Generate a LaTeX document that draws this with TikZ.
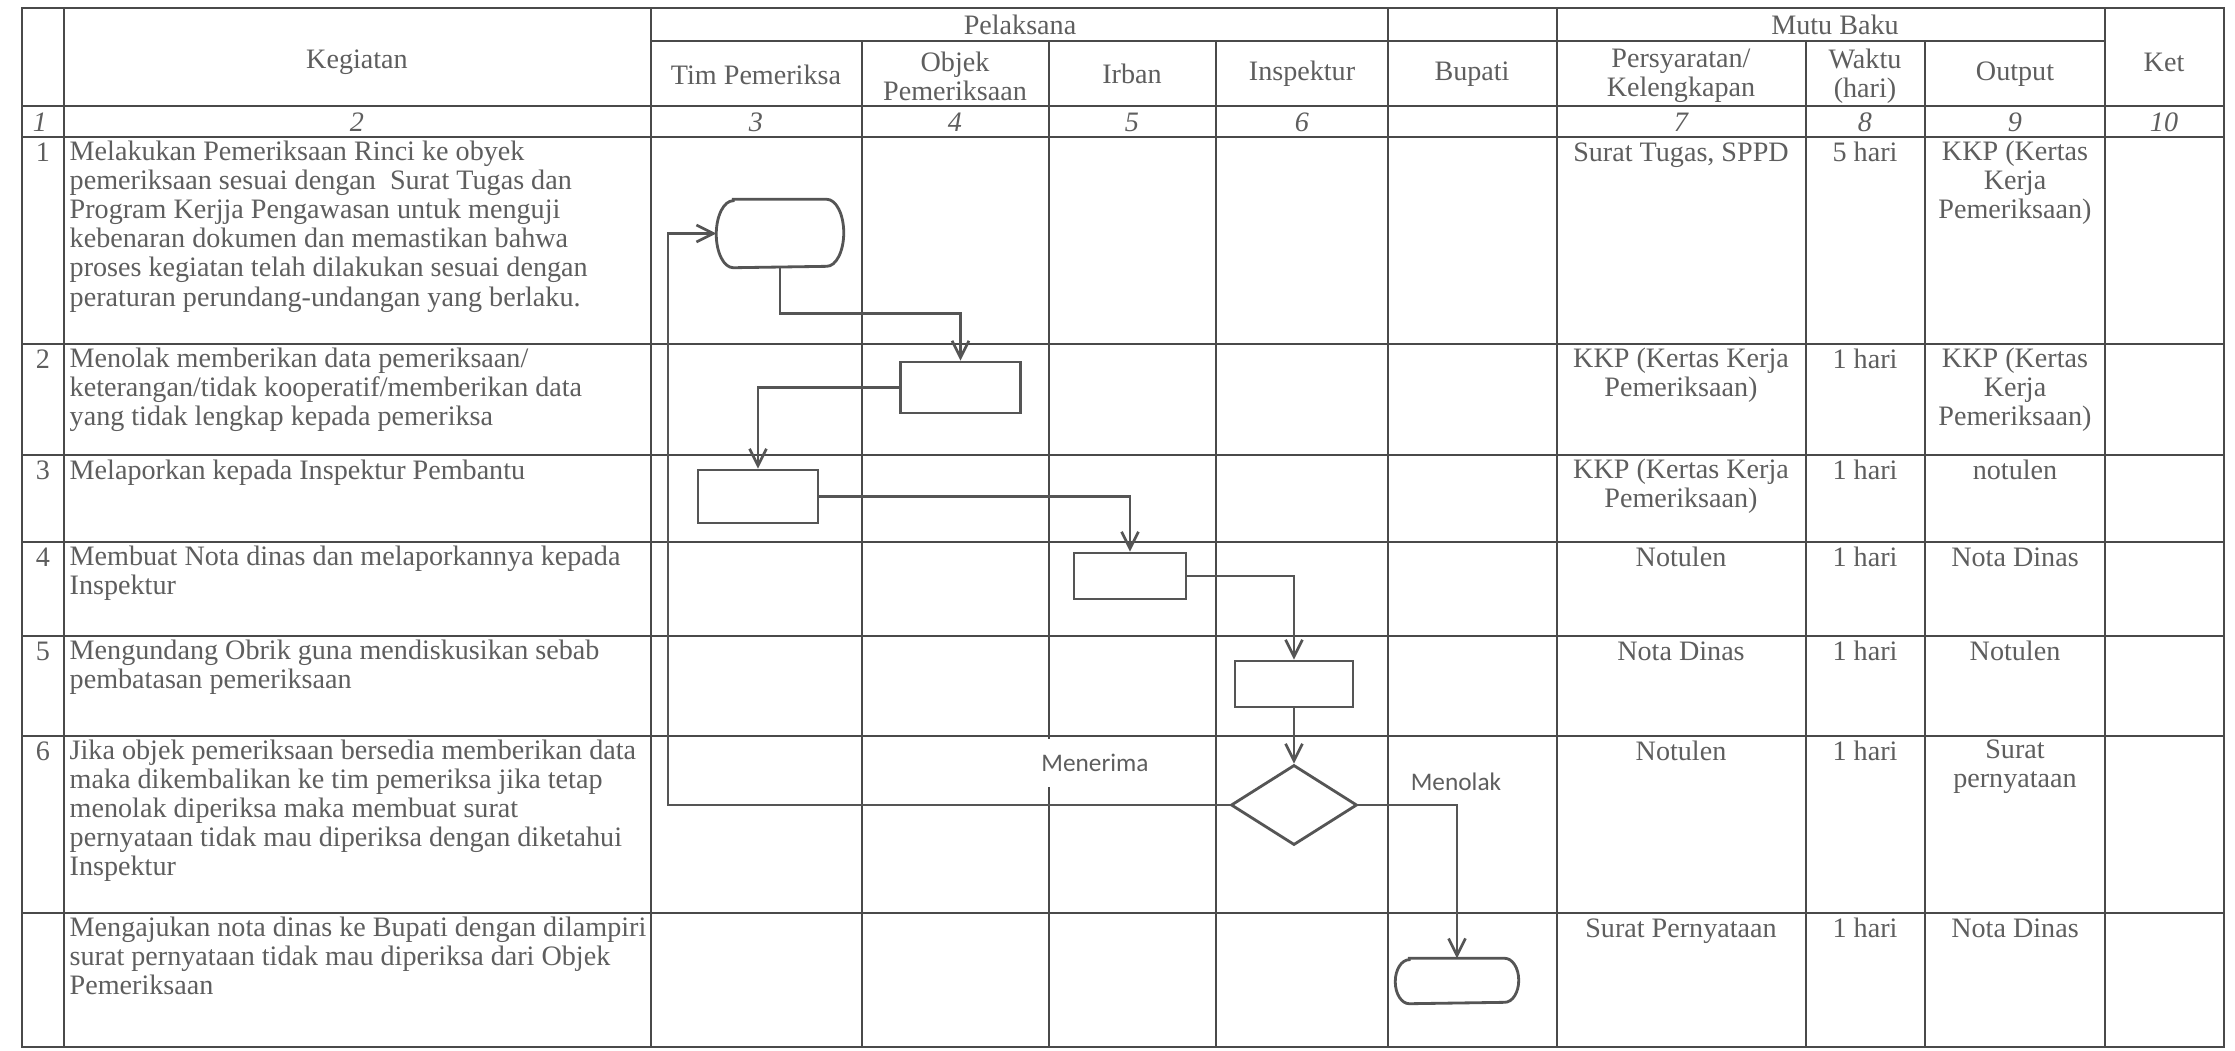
\documentclass[tikz,border=0pt]{standalone}
\usepackage{fontspec}
\setmainfont{Liberation Serif}
\newfontfamily\lblfont{Carlito}
\usepackage{tikz}
\usetikzlibrary{arrows.meta,positioning,shapes.geometric}
\definecolor{gline}{HTML}{4A4A4A}
\definecolor{gtext}{HTML}{5E5E5E}
\definecolor{gflow}{HTML}{555555}
\newcommand{\cellfont}{\fontsize{8}{8.3}\selectfont}
\newcommand{\termline}[3]{\draw[draw=gflow,line width=0.8pt] ([xshift=#2]#1.north west) -- ([xshift=-#2]#1.north east) arc[start angle=90,end angle=-90,x radius=#2,y radius=#3] -- ([xshift=#2]#1.south west) arc[start angle=270,end angle=90,x radius=#2,y radius=#3] -- cycle;}
\tikzset{
  tline/.style={draw=gline,line width=0.4pt},
  hd/.style={text=gtext,font=\cellfont,align=center,inner sep=0pt},
  num/.style={hd,font=\cellfont\itshape},
  cell/.style={hd,anchor=north,execute at begin node=\strut},
  kcell/.style={cell,anchor=north west,align=left},
  proc/.style={draw=gflow,line width=0.8pt,rectangle,inner sep=0pt},
  term/.style={rectangle,inner sep=0pt},
  dec/.style={draw=gflow,line width=0.8pt,diamond,inner sep=0pt},
  fl/.style={-{Straight Barb[length=4.8pt,width=4.8pt]},line width=0.75pt,draw=gflow},
  lbl/.style={font=\lblfont\fontsize{7.2}{8}\selectfont,text=gtext,inner sep=0pt},
}
\begin{document}
\begin{tikzpicture}[x=0.01cm,y=-0.01cm]
\useasboundingbox[fill=white] (0,0) rectangle (2235,1051);
% table
\draw[tline] (22,8) rectangle (2224,1047);
\draw[tline] (651,41) -- (2105,41);
\draw[tline] (22,106) -- (2224,106) (22,137) -- (2224,137) (22,344) -- (2224,344) (22,455) -- (2224,455)
  (22,542) -- (2224,542) (22,636) -- (2224,636) (22,736) -- (2224,736) (22,913) -- (2224,913);
\draw[tline] (64,8) -- (64,1047) (651,8) -- (651,1047) (1388,8) -- (1388,1047) (1557,8) -- (1557,1047) (2105,8) -- (2105,1047);
\draw[tline] (862,41) -- (862,1047) (1049,41) -- (1049,1047) (1216,41) -- (1216,1047) (1806,41) -- (1806,1047) (1925,41) -- (1925,1047);
\node[hd] (hkeg) at (357,62) {Kegiatan};
\node[hd] (hpel) at (1020,25) {Pelaksana};
\node[hd] (htim) at (756,75) {Tim Pemeriksa};
\node[hd] (hobj) at (955,76) {Objek\\Pemeriksaan};
\node[hd] (hirb) at (1132,74) {Irban};
\node[hd] (hins) at (1302,74) {Inspektur};
\node[hd] (hbup) at (1472,74) {Bupati};
\node[hd] (hmut) at (1835,25) {Mutu Baku};
\node[hd] (hper) at (1681,76) {Persyaratan/\\Kelengkapan};
\node[hd] (hwak) at (1865,76) {Waktu\\(hari)};
\node[hd] (hout) at (2015,74) {Output};
\node[hd] (hket) at (2164,62) {Ket};
\node[num] (c1) at (40,122) {1};
\node[num] (c2) at (357,122) {2};
\node[num] (c3) at (756,122) {3};
\node[num] (c4) at (955,122) {4};
\node[num] (c5) at (1132,122) {5};
\node[num] (c6) at (1302,122) {6};
\node[num] (c7) at (1681,122) {7};
\node[num] (c8) at (1865,122) {8};
\node[num] (c9) at (2015,122) {9};
\node[num] (c10) at (2164,122) {10};
% kegiatan
\node[cell] (n1) at (43,140) {1};
\node[cell] (n2) at (43,347) {2};
\node[cell] (n3) at (43,458) {3};
\node[cell] (n4) at (43,545) {4};
\node[cell] (n5) at (43,639) {5};
\node[cell] (n6) at (43,739) {6};
\node[kcell] (k1) at (69,140) {Melakukan Pemeriksaan Rinci ke obyek\\pemeriksaan sesuai dengan \ Surat Tugas dan\\Program Kerjja Pengawasan untuk menguji\\kebenaran dokumen dan memastikan bahwa\\proses kegiatan telah dilakukan sesuai dengan\\peraturan perundang-undangan yang berlaku.};
\node[kcell] (k2) at (69,347) {Menolak memberikan data pemeriksaan/\\keterangan/tidak kooperatif/memberikan data\\yang tidak lengkap kepada pemeriksa};
\node[kcell] (k3) at (69,458) {Melaporkan kepada Inspektur Pembantu};
\node[kcell] (k4) at (69,545) {Membuat Nota dinas dan melaporkannya kepada\\Inspektur};
\node[kcell] (k5) at (69,639) {Mengundang Obrik guna mendiskusikan sebab\\pembatasan pemeriksaan};
\node[kcell] (k6) at (69,739) {Jika objek pemeriksaan bersedia memberikan data\\maka dikembalikan ke tim pemeriksa jika tetap\\menolak diperiksa maka membuat surat\\pernyataan tidak mau diperiksa dengan diketahui\\Inspektur};
\node[kcell] (k7) at (69,916) {Mengajukan nota dinas ke Bupati dengan dilampiri\\surat pernyataan tidak mau diperiksa dari Objek\\Pemeriksaan};
% mutu baku
\node[cell] (p1) at (1681,140) {Surat Tugas, SPPD};
\node[cell] (w1) at (1865,140) {5 hari};
\node[cell] (o1) at (2015,140) {KKP (Kertas\\Kerja\\Pemeriksaan)};
\node[cell] (p2) at (1681,347) {KKP (Kertas Kerja\\Pemeriksaan)};
\node[cell] (w2) at (1865,347) {1 hari};
\node[cell] (o2) at (2015,347) {KKP (Kertas\\Kerja\\Pemeriksaan)};
\node[cell] (p3) at (1681,458) {KKP (Kertas Kerja\\Pemeriksaan)};
\node[cell] (w3) at (1865,458) {1 hari};
\node[cell] (o3) at (2015,458) {notulen};
\node[cell] (p4) at (1681,545) {Notulen};
\node[cell] (w4) at (1865,545) {1 hari};
\node[cell] (o4) at (2015,545) {Nota Dinas};
\node[cell] (p5) at (1681,639) {Nota Dinas};
\node[cell] (w5) at (1865,639) {1 hari};
\node[cell] (o5) at (2015,639) {Notulen};
\node[cell] (p6) at (1681,739) {Notulen};
\node[cell] (w6) at (1865,739) {1 hari};
\node[cell] (o6) at (2015,739) {Surat\\pernyataan};
\node[cell] (p7) at (1681,916) {Surat Pernyataan};
\node[cell] (w7) at (1865,916) {1 hari};
\node[cell] (o7) at (2015,916) {Nota Dinas};
% flow
\node[lbl, fill=white, inner xsep=0.1cm, minimum height=0.48cm] (ya) at (1095,763) {Menerima};
\node[lbl] (tidak) at (1456,782) {Menolak};
\node[term, minimum width=1.26cm, minimum height=0.67cm] (start) at (780,233.5) {};
\termline{start}{0.17cm}{0.335cm}
\node[proc, minimum width=1.2cm, minimum height=0.51cm] (bobj) at (960.5,387.5) {};
\node[proc, minimum width=1.2cm, minimum height=0.53cm] (btim) at (758,496.5) {};
\node[proc, minimum width=1.12cm, minimum height=0.46cm] (birb) at (1130,576) {};
\node[proc, minimum width=1.18cm, minimum height=0.46cm] (bins) at (1294,684) {};
\node[dec, minimum width=1.26cm, minimum height=0.8cm] (cek) at (1294,805) {};
\node[term, minimum width=1.22cm, minimum height=0.44cm] (finish) at (1457,981) {};
\termline{finish}{0.14cm}{0.22cm}
\coordinate (ret) at (668,805);
\draw[fl] (start.south) -- ++(0,46) -| (bobj.north);
\draw[fl] (bobj.west) -| (btim.north);
\draw[fl] (btim.east) -| (birb.north);
\draw[fl] (birb.east) -| (bins.north);
\draw[fl] (bins.south) -- (cek.north);
\draw[fl] (cek.west) -- (ret) |- (start.west);
\draw[fl] (cek.east) -| (finish.north);
\end{tikzpicture}
\end{document}
